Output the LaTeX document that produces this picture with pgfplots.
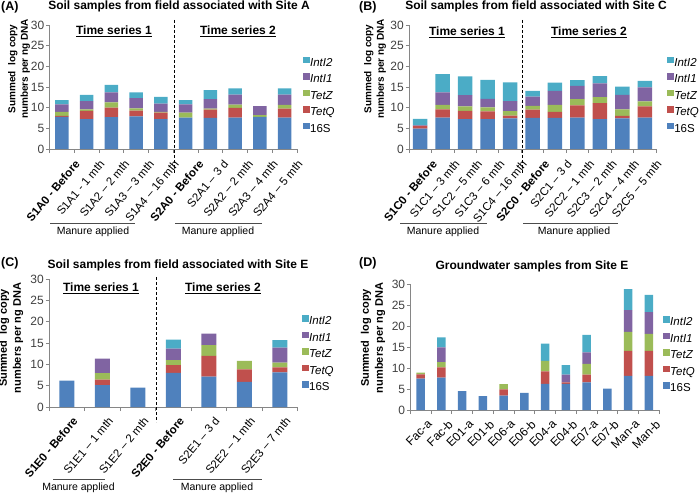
\documentclass[border=0pt]{standalone}
\usepackage{fontspec}
\setmainfont{Liberation Sans}
\usepackage{pgfplots}
\usepackage{pgfplotstable}
\pgfplotsset{compat=1.18}
\definecolor{cS}{HTML}{4F81BD}
\definecolor{cQ}{HTML}{C0504D}
\definecolor{cZ}{HTML}{9BBB59}
\definecolor{cI}{HTML}{8064A2}
\definecolor{cJ}{HTML}{4BACC6}
\definecolor{axgray}{HTML}{868686}
\definecolor{txtgray}{HTML}{404040}

\pgfplotstableread{
x s16 tetq tetz inti1 inti2
0 7.8 0.2 1.0 1.8 1.0
1 7.2 2.0 0.4 2.0 1.5
2 7.7 2.3 1.3 2.4 1.8
3 7.9 1.4 0.5 2.5 1.4
4 7.2 1.6 0.2 2.0 1.6
5 7.6 0.0 1.2 2.0 1.0
6 7.5 2.0 0.25 2.3 2.2
7 7.6 2.35 0.8 2.4 1.5
8 7.8 0.0 0.4 2.2 0.0
9 7.6 2.15 0.95 2.45 1.5
}\tabA

\pgfplotstableread{
x s16 tetq tetz inti1 inti2
0 4.9 0.7 0.0 0.1 1.6
1 7.6 2.0 1.1 3.0 4.4
2 7.2 2.05 1.05 2.75 4.5
3 7.2 1.9 0.95 2.05 4.6
4 7.4 0.7 1.05 2.45 4.5
5 7.5 2.05 0.9 2.2 1.4
6 7.5 1.5 1.65 3.4 2.0
7 7.6 2.95 1.5 3.25 1.35
8 7.2 3.9 1.45 3.3 1.8
9 7.4 0.6 1.6 3.5 2.0
10 7.6 2.7 1.2 3.4 1.6
}\tabB

\pgfplotstableread{
x s16 tetq tetz inti1 inti2
0 6.2 0.0 0.0 0.0 0.0
1 5.1 1.3 1.55 3.4 0.0
2 4.55 0.0 0.0 0.0 0.0
3 8.0 1.8 1.2 2.7 2.1
4 7.1 4.9 2.5 2.7 0.0
5 5.9 2.9 2.0 0.0 0.0
6 8.1 1.2 1.1 3.5 1.8
}\tabC

\pgfplotstableread{
x s16 tetq tetz inti1 inti2
0 7.5 1.0 0.4 0.0 0.0
1 7.7 2.45 1.25 3.5 2.4
2 4.5 0.0 0.0 0.0 0.0
3 3.3 0.0 0.0 0.0 0.0
4 3.4 1.5 1.25 0.0 0.0
5 4.1 0.0 0.0 0.0 0.0
6 6.2 3.0 2.5 0.0 4.1
7 6.2 0.4 0.0 1.8 2.3
8 6.6 1.8 2.6 2.7 4.2
9 5.1 0.0 0.0 0.0 0.0
10 8.1 6.0 4.5 5.2 5.0
11 8.1 6.0 4.0 5.2 4.1
}\tabD

\pgfplotsset{
  panel/.style={
    scale only axis, anchor=south west,
    ybar stacked, ymin=0, ymax=30, ytick={0,5,...,30},
    axis x line*=bottom, axis y line*=left,
    axis line style={draw=axgray, line width=0.8pt},
    tick align=outside,
    major tick length=3.5pt, minor tick length=4pt,
    ytick style={draw=axgray, line width=0.8pt},
    every major x tick/.append style={draw=none},
    minor x tick style={draw=axgray, line width=0.8pt},
    /pgf/number format/assume math mode=true,
    yticklabel style={font=\fontsize{12}{14}\selectfont, text=txtgray, inner sep=1.5pt},
    reverse legend,
    legend cell align=left,
    legend style={draw=none, fill=none, font=\fontsize{11.5}{13}\selectfont, anchor=north west, row sep=4pt, inner sep=0pt,
      nodes={inner sep=0.5pt, text height=8.5pt, text depth=2.5pt}},
    legend image code/.code={\fill[##1] (0pt,0pt) rectangle (6.5pt,6.5pt);},
    clip=false,
  },
  s16/.style={fill=cS, draw=none},
  sq/.style={fill=cQ, draw=none},
  sz/.style={fill=cZ, draw=none},
  si/.style={fill=cI, draw=none},
  sj/.style={fill=cJ, draw=none},
}

\newcommand{\fivebars}[1]{%
  \addplot[s16] table[x=x, y=s16] {#1};
  \addplot[sq] table[x=x, y=tetq] {#1};
  \addplot[sz] table[x=x, y=tetz] {#1};
  \addplot[si] table[x=x, y=inti1] {#1};
  \addplot[sj] table[x=x, y=inti2] {#1};
  \legend{16S, \textit{TetQ}, \textit{TetZ}, \textit{IntI1}, \textit{IntI2}}
}

\begin{document}
\begin{tikzpicture}[x=1pt, y=1pt]
\path[use as bounding box] (0pt,0pt) rectangle (700pt,495pt);

% ---------- Panel A ----------
\begin{axis}[panel, at={(49.5pt,346pt)}, width=247.5pt, height=124pt,
  xmin=-0.5, xmax=9.5, bar width=13.5pt,
  xtick={0,...,9}, minor xtick={-0.5,0.5,...,9.5},
  xticklabel style={font=\fontsize{11.5}{13}\selectfont, text=black, xshift=12pt, yshift=-5pt, rotate=50, anchor=north east, inner sep=1pt},
  xticklabels={\textbf{S1A0 - Before}, S1A1 - 1 mth, S1A2 – 2 mth, S1A3 – 3 mth, S1A4 – 16 mth,
    \textbf{S2A0 - Before}, S2A1 – 3 d, S2A2 – 2 mth, S2A3 – 4 mth, S2A4 – 5 mth},
  legend style={at={(axis description cs:1.024,0.745)}}]
\fivebars{\tabA}
\end{axis}

% ---------- Panel B ----------
\begin{axis}[panel, at={(409pt,346pt)}, width=247pt, height=124pt,
  xmin=-0.5, xmax=10.5, bar width=14.5pt,
  xtick={0,...,10}, minor xtick={-0.5,0.5,...,10.5},
  xticklabel style={font=\fontsize{11.5}{13}\selectfont, text=black, xshift=11pt, yshift=-5pt, rotate=50, anchor=north east, inner sep=1pt},
  xticklabels={\textbf{S1C0 - Before}, S1C1 – 3 mth, S1C2 – 5 mth, S1C3 – 6 mth, S1C4 – 16 mth,
    \textbf{S2C0 - Before}, S2C1 – 3 d, S2C2 – 1 mth, S2C3 – 2 mth, S2C4 – 4 mth, S2C5 – 5 mth},
  legend style={at={(axis description cs:1.045,0.745)}}]
\fivebars{\tabB}
\end{axis}

% ---------- Panel C ----------
\begin{axis}[panel, at={(49pt,88pt)}, width=248.5pt, height=128pt,
  xmin=-0.5, xmax=6.5, bar width=15pt,
  xtick={0,...,6}, minor xtick={-0.5,0.5,...,6.5},
  xticklabel style={font=\fontsize{11.5}{13}\selectfont, text=black, xshift=5pt, yshift=-4pt, rotate=50, anchor=north east, inner sep=1pt},
  xticklabels={\textbf{S1E0 - Before}, S1E1 – 1 mth, S1E2 – 2 mth,
    \textbf{S2E0 - Before}, S2E1 – 3 d, S2E2 – 1 mth, S2E3 – 7 mth},
  legend style={at={(axis description cs:1.018,0.72)}}]
\fivebars{\tabC}
\end{axis}

% ---------- Panel D ----------
\begin{axis}[panel, at={(410.3pt,85pt)}, width=249pt, height=126pt,
  xmin=-0.5, xmax=11.5, bar width=8.5pt,
  xtick={0,...,11}, minor xtick={-0.5,0.5,...,11.5},
  xticklabels={Fac-a, Fac-b, E01-a, E01-b, E06-a, E06-b, E04-a, E04-b, E07-a, E07-b, Man-a, Man-b},
  xticklabel style={font=\fontsize{12}{14}\selectfont, text=black, xshift=6pt, yshift=-4pt, rotate=45, anchor=north east, inner sep=1pt},
  legend style={at={(axis description cs:1.015,0.745)}}]
\fivebars{\tabD}
\end{axis}

% ---------- Annotations ----------
\tikzset{lett/.style={font=\fontsize{12.5}{15}\selectfont\bfseries, anchor=west, inner sep=0pt},
  ttl/.style={font=\fontsize{12}{14}\selectfont\bfseries, inner sep=0pt},
  ts/.style={font=\fontsize{12}{14}\selectfont\bfseries, inner sep=0pt},
  man/.style={font=\fontsize{10.5}{12}\selectfont, inner sep=0pt},
  manl/.style={draw=black!70, line width=0.9pt},
  dsh/.style={draw=black, line width=0.9pt, dash pattern=on 3pt off 2pt}}

\node[lett] at (1pt,487.5pt) {(A)};
\node[lett] at (359pt,487.5pt) {(B)};
\node[lett] at (1pt,232pt) {(C)};
\node[lett] at (359pt,232pt) {(D)};

\node[ttl] at (179pt,488.5pt) {Soil samples from field associated with Site A};
\node[ttl] at (536pt,488.5pt) {Soil samples from field associated with Site C};
\node[ttl] at (178pt,229.5pt) {Soil samples from field associated with Site E};
\node[ttl] at (532pt,228.5pt) {Groundwater samples from Site E};

\node[ts] at (114pt,464pt) {\underline{Time series 1}};
\node[ts] at (238pt,464pt) {\underline{Time series 2}};
\node[ts] at (467pt,463pt) {\underline{Time series 1}};
\node[ts] at (589pt,463pt) {\underline{Time series 2}};
\node[ts] at (101pt,207pt) {\underline{Time series 1}};
\node[ts] at (223pt,207pt) {\underline{Time series 2}};

\draw[dsh] (174pt,475pt) -- (174pt,322pt);
\draw[dsh] (522pt,475pt) -- (522pt,322pt);
\draw[dsh] (156pt,218pt) -- (156pt,73pt);

\draw[manl] (50pt,272pt) -- (135pt,272pt);
\draw[manl] (175pt,272pt) -- (262pt,272pt);
\node[man] at (93pt,263pt) {Manure applied};
\node[man] at (218pt,263pt) {Manure applied};
\draw[manl] (400pt,272pt) -- (487pt,272pt);
\draw[manl] (523pt,272pt) -- (618pt,272pt);
\node[man] at (443pt,263pt) {Manure applied};
\node[man] at (574pt,263pt) {Manure applied};
\draw[manl] (53pt,16pt) -- (105pt,16pt);
\draw[manl] (173pt,16pt) -- (262pt,16pt);
\node[man] at (78.5pt,7pt) {Manure applied};
\node[man] at (217pt,7pt) {Manure applied};

\node[rotate=90, align=center, font=\fontsize{10}{12.5}\selectfont\bfseries, inner sep=0pt] at (19pt,426pt) {Summed\ \ log copy\\numbers per ng DNA};
\node[rotate=90, align=center, font=\fontsize{10}{12.5}\selectfont\bfseries, inner sep=0pt] at (375pt,426pt) {Summed\ \ log copy\\numbers per ng DNA};
\node[rotate=90, align=center, font=\fontsize{11}{14}\selectfont\bfseries, inner sep=0pt] at (11pt,157pt) {Summed\ \ log copy\\numbers per ng DNA};
\node[rotate=90, align=center, font=\fontsize{11}{14}\selectfont\bfseries, inner sep=0pt] at (373pt,157pt) {Summed\ \ log copy\\numbers per ng DNA};
\end{tikzpicture}
\end{document}
